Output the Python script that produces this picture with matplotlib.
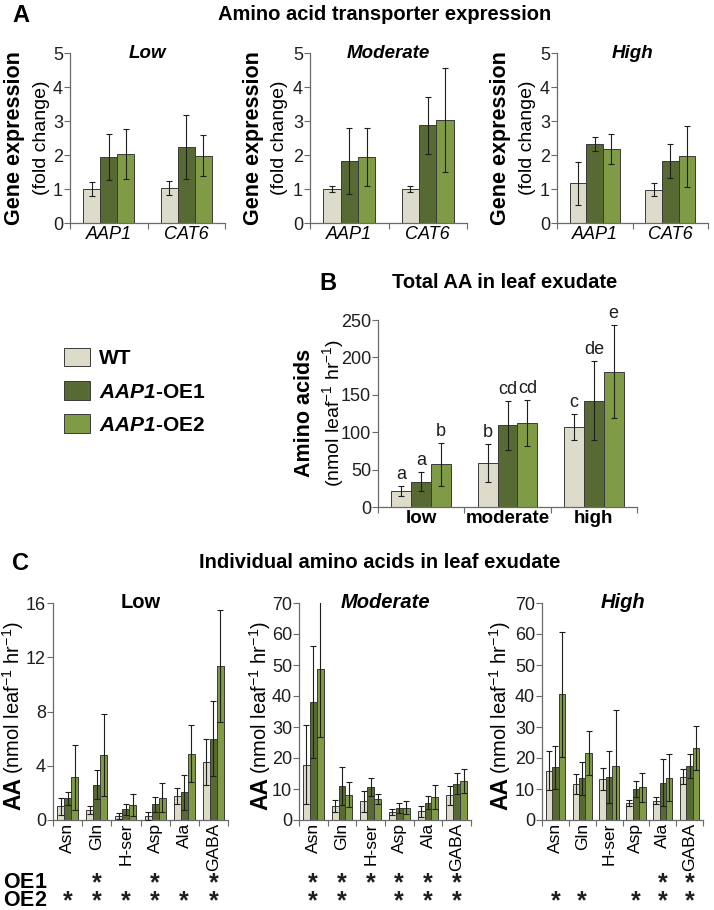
import numpy as np
import matplotlib
matplotlib.use('Agg')
import matplotlib.pyplot as plt
from matplotlib.transforms import blended_transform_factory

plt.rcParams['font.family'] = ['Liberation Sans', 'DejaVu Sans']
plt.rcParams['mathtext.fontset'] = 'custom'
plt.rcParams['mathtext.rm'] = 'Liberation Sans'
plt.rcParams['mathtext.it'] = 'Liberation Sans:italic'
plt.rcParams['mathtext.bf'] = 'Liberation Sans:bold'
plt.rcParams['mathtext.bfit'] = 'Liberation Sans:bold:italic'

# ---- data ----
genotypes = ['WT', r'$\mathbfit{AAP1}$-OE1', r'$\mathbfit{AAP1}$-OE2']
colors = ['#dddccb', '#586a33', '#809b46']

# panel A: fold change, rows = WT, OE1, OE2; cols = AAP1, CAT6
genes = ['AAP1', 'CAT6']
a_levels = ['Low', 'Moderate', 'High']
a_low_mean = [[1.00, 1.03], [1.94, 2.23], [2.02, 1.98]]
a_low_err = [[0.21, 0.21], [0.68, 0.95], [0.74, 0.61]]
a_mod_mean = [[1.00, 1.00], [1.81, 2.87], [1.94, 3.03]]
a_mod_err = [[0.10, 0.09], [0.97, 0.84], [0.84, 1.54]]
a_high_mean = [[1.17, 0.98], [2.33, 1.82], [2.18, 1.96]]
a_high_err = [[0.63, 0.20], [0.20, 0.49], [0.45, 0.89]]

# panel B: total AA, cols = low, moderate, high
b_groups = ['low', 'moderate', 'high']
b_mean = [[21.5, 59.0, 107.0], [34.0, 109.0, 142.0], [57.0, 112.0, 181.0]]
b_err = [[7.0, 25.5, 18.0], [13.0, 33.0, 53.0], [29.0, 31.0, 62.0]]
b_letters = [['a', 'b', 'c'], ['a', 'cd', 'de'], ['b', 'cd', 'e']]

# panel C: individual amino acids
amino = ['Asn', 'Gln', 'H-ser', 'Asp', 'Ala', 'GABA']
c_levels = ['Low', 'Moderate', 'High']
c_low_mean = [[1.0, 0.75, 0.3, 0.32, 1.75, 4.25],
              [1.6, 2.6, 0.8, 1.15, 2.03, 6.0],
              [3.15, 4.8, 1.1, 1.65, 4.9, 11.35]]
c_low_err = [[0.6, 0.3, 0.2, 0.3, 0.6, 1.7],
             [0.5, 1.05, 0.4, 0.55, 1.3, 2.77],
             [2.4, 3.0, 0.8, 1.05, 2.1, 4.15]]
c_mod_mean = [[17.9, 4.5, 6.0, 2.6, 2.8, 8.0],
              [38.0, 11.0, 10.7, 3.9, 5.6, 11.7],
              [48.7, 8.2, 6.8, 4.0, 7.5, 12.5]]
c_mod_err = [[12.8, 2.0, 3.3, 1.1, 1.8, 3.1],
             [18.0, 6.0, 3.0, 1.5, 2.1, 3.4],
             [21.8, 4.1, 1.5, 2.0, 3.9, 3.8]]
c_high_mean = [[15.9, 11.6, 13.2, 5.6, 6.2, 14.0],
               [17.0, 13.4, 13.8, 9.9, 12.0, 17.4],
               [40.5, 21.5, 17.4, 10.5, 13.6, 23.2]]
c_high_err = [[6.2, 3.2, 3.6, 1.0, 1.1, 2.3],
              [7.0, 5.2, 8.3, 2.6, 7.6, 4.0],
              [20.3, 7.1, 18.1, 4.6, 7.6, 7.0]]
# significance stars (1 = star) for OE1 and OE2
c_low_sig = [[0, 1, 0, 1, 0, 1], [1, 1, 1, 1, 1, 1]]
c_mod_sig = [[1, 1, 1, 1, 1, 1], [1, 1, 0, 1, 1, 1]]
c_high_sig = [[0, 0, 0, 0, 1, 1], [1, 1, 0, 1, 1, 1]]
sig_rows = ['OE1', 'OE2']

W, H = 714, 910
fig = plt.figure(figsize=(W / 100, H / 100), dpi=100)
ink = '#1e1e1e'
axcol = '#6a6a6a'


def box(l, t, r, b):
    return [l / W, 1 - b / H, (r - l) / W, (b - t) / H]


def px(x, y):
    return x / W, 1 - y / H


def bars(ax, means, errs, width, ticksize):
    n = len(means[0])
    x = np.arange(n) + 0.5
    conts = []
    for g in range(3):
        c = ax.bar(x + (g - 1) * width, means[g], width, yerr=errs[g],
                   color=colors[g], edgecolor='#3a3a3a', linewidth=0.7,
                   error_kw=dict(ecolor=ink, elinewidth=0.8, capsize=2.2,
                                 capthick=0.8, zorder=4), zorder=2)
        conts.append(c)
    ax.set_xlim(0, n)
    ax.set_xticks(np.arange(n + 1))
    ax.set_xticklabels([])
    ax.set_xticks(x, minor=True)
    for s in ['top', 'right']:
        ax.spines[s].set_visible(False)
    for s in ['left', 'bottom']:
        ax.spines[s].set_color(axcol)
        ax.spines[s].set_linewidth(0.9)
    ax.tick_params(axis='both', which='major', length=4, width=0.8,
                   color=axcol, labelsize=ticksize, labelcolor=ink, pad=1)
    ax.tick_params(axis='x', which='minor', length=0, pad=2)
    return x, conts


# ---- panel A ----
fig.text(*px(12, 15), 'A', fontsize=17, fontweight='bold', ha='left', va='center')
fig.text(*px(385, 15), 'Amino acid transporter expression', fontsize=14.5,
         fontweight='bold', ha='center', va='center')
a_boxes = [(70, 53, 225, 223), (310, 53, 467, 223), (557, 53, 708, 223)]
a_lab_x = [(15, 41), (254, 280), (501, 527)]
a_data = [(a_low_mean, a_low_err), (a_mod_mean, a_mod_err), (a_high_mean, a_high_err)]
for i in range(3):
    ax = fig.add_axes(box(*a_boxes[i]))
    x, conts = bars(ax, a_data[i][0], a_data[i][1], 0.22, 13)
    ax.set_ylim(0, 5)
    ax.set_yticks(range(6))
    ax.set_xticklabels(genes, minor=True, fontstyle='italic', fontsize=13)
    ax.text(0.5, 1.0, a_levels[i], transform=ax.transAxes, ha='center', va='center',
            fontsize=13.5, fontweight='bold', fontstyle='italic')
    fig.text(*px(a_lab_x[i][0], 138), 'Gene expression', rotation=90, fontsize=15.5,
             fontweight='bold', ha='center', va='center')
    fig.text(*px(a_lab_x[i][1], 138), '(fold change)', rotation=90, fontsize=14,
             ha='center', va='center')
    if i == 0:
        legend_handles = conts

# ---- legend ----
fig.legend(legend_handles, genotypes, loc='upper left', bbox_to_anchor=px(45, 329),
           frameon=False, prop=dict(weight='bold', size=15),
           handlelength=1.25, handleheight=1.0, handletextpad=0.45, labelspacing=0.62)

# ---- panel B ----
fig.text(*px(328, 283), 'B', fontsize=17, fontweight='bold', ha='center', va='center')
fig.text(*px(505, 283), 'Total AA in leaf exudate', fontsize=14.5,
         fontweight='bold', ha='center', va='center')
axb = fig.add_axes(box(378, 320, 637, 507))
x, conts = bars(axb, b_mean, b_err, 0.23, 13)
axb.set_ylim(0, 250)
axb.set_yticks(range(0, 251, 50))
axb.set_xticklabels(b_groups, minor=True, fontweight='bold', fontsize=13.5)
for g in range(3):
    for j in range(3):
        axb.annotate(b_letters[g][j], (x[j] + (g - 1) * 0.23, b_mean[g][j] + b_err[g][j]),
                     xytext=(0, 2), textcoords='offset points', ha='center',
                     va='bottom', fontsize=13, color=ink)
fig.text(*px(305, 413), 'Amino acids', rotation=90, fontsize=15.5, fontweight='bold',
         ha='center', va='center')
fig.text(*px(333, 413), r'(nmol leaf$^{-1}$ hr$^{-1}$)', rotation=90, fontsize=14,
         ha='center', va='center')

# ---- panel C ----
fig.text(*px(12, 563), 'C', fontsize=17, fontweight='bold', ha='left', va='center')
fig.text(*px(380, 563), 'Individual amino acids in leaf exudate', fontsize=14.5,
         fontweight='bold', ha='center', va='center')
c_boxes = [(53, 603, 228, 820), (299, 603, 471, 820), (542, 603, 703, 820)]
c_lab_x = [20, 267, 507]
c_data = [(c_low_mean, c_low_err, c_low_sig), (c_mod_mean, c_mod_err, c_mod_sig),
          (c_high_mean, c_high_err, c_high_sig)]
row_y = [882, 900]
for i in range(3):
    ax = fig.add_axes(box(*c_boxes[i]))
    x, conts = bars(ax, c_data[i][0], c_data[i][1], 0.24, 13)
    if i == 0:
        ax.set_ylim(0, 16)
        ax.set_yticks(range(0, 17, 4))
    else:
        ax.set_ylim(0, 70)
        ax.set_yticks(range(0, 71, 10))
    ax.set_xticklabels(amino, minor=True, rotation=90, fontsize=12.5)
    ax.text(0.5, 1.0, c_levels[i], transform=ax.transAxes, ha='center', va='center',
            fontsize=14.5, fontweight='bold', fontstyle='normal' if i == 0 else 'italic')
    bx, by = px(c_lab_x[i], 810)
    fig.text(bx, by, 'AA', rotation=90, rotation_mode='anchor', ha='left',
             va='baseline', fontsize=16.5, fontweight='bold')
    fig.text(bx, by + 36 / H, r'(nmol leaf$^{-1}$ hr$^{-1}$)', rotation=90,
             rotation_mode='anchor', ha='left', va='baseline', fontsize=14.5)
    tr = blended_transform_factory(ax.transData, fig.transFigure)
    for r in range(2):
        for j in range(len(amino)):
            if c_data[i][2][r][j]:
                ax.text(x[j], 1 - row_y[r] / H, r'$\mathbf{*}$', transform=tr,
                        ha='center', va='center', fontsize=18, color=ink)

for r in range(2):
    fig.text(*px(3, row_y[r]), r'$\mathbf{%s}$' % sig_rows[r], fontsize=15.5,
             ha='left', va='center')

fig.savefig('out.png', dpi=100)
